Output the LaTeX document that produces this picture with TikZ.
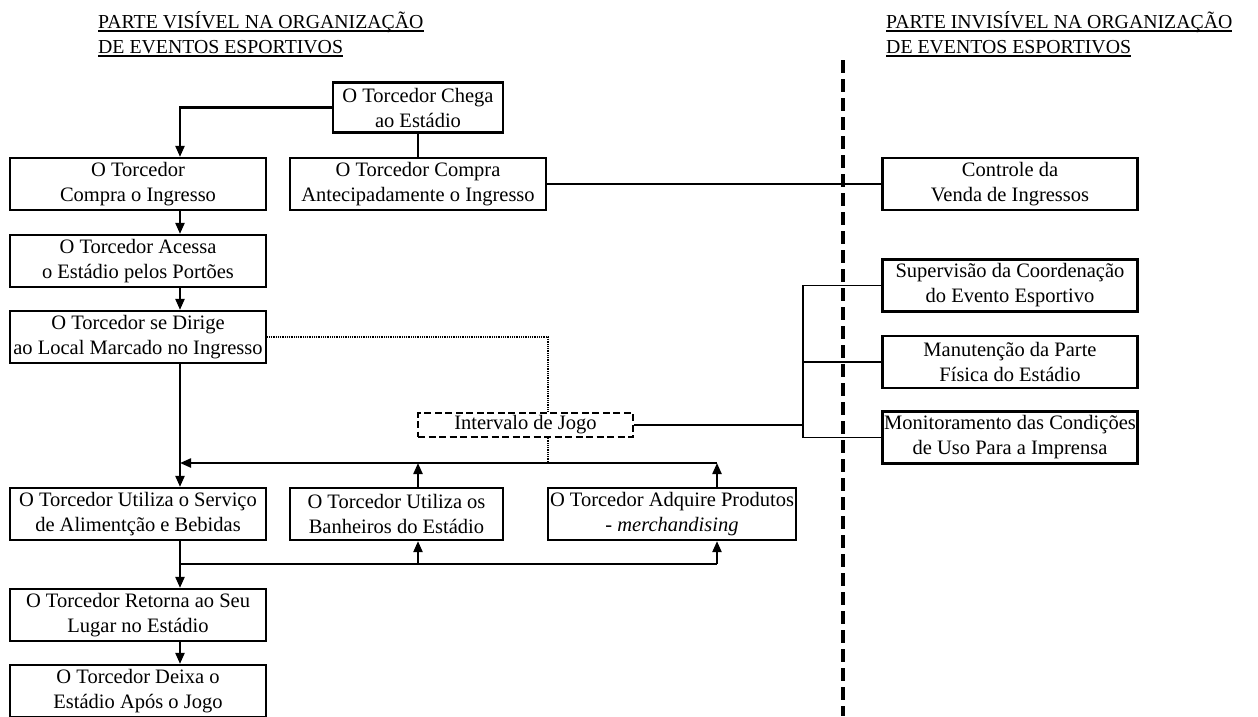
\documentclass[tikz,border=0pt]{standalone}
\usepackage{fontspec}
\setmainfont{Liberation Serif}
\usetikzlibrary{arrows.meta}
\newcommand\myul[1]{\setbox0=\hbox{#1}\leavevmode\rlap{\rule[-3.6pt]{\wd0}{1.4pt}}\box0}
\begin{document}
\begin{tikzpicture}[x=1pt,y=-1pt,
  txt/.style={font=\fontsize{20.5}{25}\selectfont},
  box/.style={txt, draw, line width=2.2pt, minimum width=256pt, minimum height=52pt, inner sep=0pt, align=center},
  hdr/.style={font=\fontsize{19.8}{25}\selectfont, anchor=base west, inner sep=0pt},
  conn/.style={line width=2.2pt},
  arr/.style={conn, -{Triangle[width=9pt,length=11pt]}},
  thinconn/.style={line width=1.7pt},
  dotconn/.style={line width=1.8pt, dash pattern=on 0.9pt off 0.9pt},
  divider/.style={line width=3.4pt, dash pattern=on 13pt off 6pt},
  intbox/.style={txt, draw, line width=1.7pt, dash pattern=on 7pt off 3.5pt, minimum width=215pt, minimum height=24pt, inner sep=0pt}]
\useasboundingbox (0,0) rectangle (1258,716);

% headers
\node[hdr] (h1) at (98,28) {\myul{PARTE VISÍVEL NA ORGANIZAÇÃO}};
\node[hdr] (h2) at (98,53) {\myul{DE EVENTOS ESPORTIVOS}};
\node[hdr] (h3) at (886,28) {\myul{PARTE INVISÍVEL NA ORGANIZAÇÃO}};
\node[hdr] (h4) at (886,53) {\myul{DE EVENTOS ESPORTIVOS}};

% divider
\coordinate (dv1) at (843,60);
\coordinate (dv2) at (843,716);
\draw[divider] (dv1) -- (dv2);

% boxes
\node[box, minimum width=170pt, minimum height=50pt] (A) at (418,107.5) {O Torcedor Chega\\ao Estádio};
\node[box] (B) at (138,184) {O Torcedor\\Compra o Ingresso};
\node[box] (C) at (418,184) {O Torcedor Compra\\Antecipadamente o Ingresso};
\node[box, minimum width=255pt] (D) at (1010,184) {Controle da\\Venda de Ingressos};
\node[box] (E) at (138,261) {O Torcedor Acessa\\o Estádio pelos Portões};
\node[box] (F) at (138,337) {O Torcedor se Dirige\\ao Local Marcado no Ingresso};
\node[box, minimum width=255pt] (G) at (1010,285.5) {Supervisão da Coordenação\\do Evento Esportivo};
\node[box, minimum width=255pt] (H) at (1010,362) {Manutenção da Parte\\Física do Estádio};
\node[box, minimum width=255pt] (I) at (1010,437.5) {Monitoramento das Condições\\de Uso Para a Imprensa};
\node[intbox] (Int) at (525.5,425) {Intervalo de Jogo};
\node[box] (J) at (138,514) {O Torcedor Utiliza o Serviço\\de Alimentção e Bebidas};
\node[box, minimum width=213pt] (K) at (396.5,514) {O Torcedor Utiliza os\\Banheiros do Estádio};
\node[box, minimum width=248pt] (L) at (672,514) {O Torcedor Adquire Produtos\\- \textit{merchandising}};
\node[box] (M) at (138,615) {O Torcedor Retorna ao Seu\\Lugar no Estádio};
\node[box] (N) at (138,691) {O Torcedor Deixa o\\Estádio Após o Jogo};

% helper coordinates
\coordinate (sp) at (180,0);
\coordinate (u1) at (180,463);
\coordinate (u2) at (418,463);
\coordinate (u3) at (717,463);
\coordinate (l1) at (180,564);
\coordinate (l2) at (418,564);
\coordinate (l3) at (717,564);
\coordinate (d1) at (548,337);
\coordinate (bk) at (803,0);

% left flow
\draw[arr] (A.west) -| (sp |- B.north);
\draw[conn] (A.south) -- (C.north);
\draw[arr] (sp |- B.south) -- (sp |- E.north);
\draw[arr] (sp |- E.south) -- (sp |- F.north);
\draw[arr] (sp |- F.south) -- (sp |- J.north);
\draw[arr] (u3) -- (u1);
\draw[arr] (u2 |- K.north) -- (u2);
\draw[arr] (u3 |- L.north) -- (u3);
\draw[conn] (sp |- J.south) -- (l1) -- (l3);
\draw[arr] (l1) -- (sp |- M.north);
\draw[arr] (l2) -- (l2 |- K.south);
\draw[arr] (l3) -- (l3 |- L.south);
\draw[arr] (sp |- M.south) -- (sp |- N.north);

% right connections
\draw[thinconn] (C.east) -- (D.west);
\draw[thinconn] (G.west) -| (bk |- I.west) -- (I.west);
\draw[thinconn] (H.west) -- (bk |- H.west);
\draw[line width=1.2pt] (Int.east) -- (bk |- Int.east);

% dotted interval links
\draw[dotconn] (F.east |- d1) -- (d1) -- (d1 |- Int.north);
\draw[dotconn] (d1 |- Int.south) -- (d1 |- u1);
\end{tikzpicture}
\end{document}
